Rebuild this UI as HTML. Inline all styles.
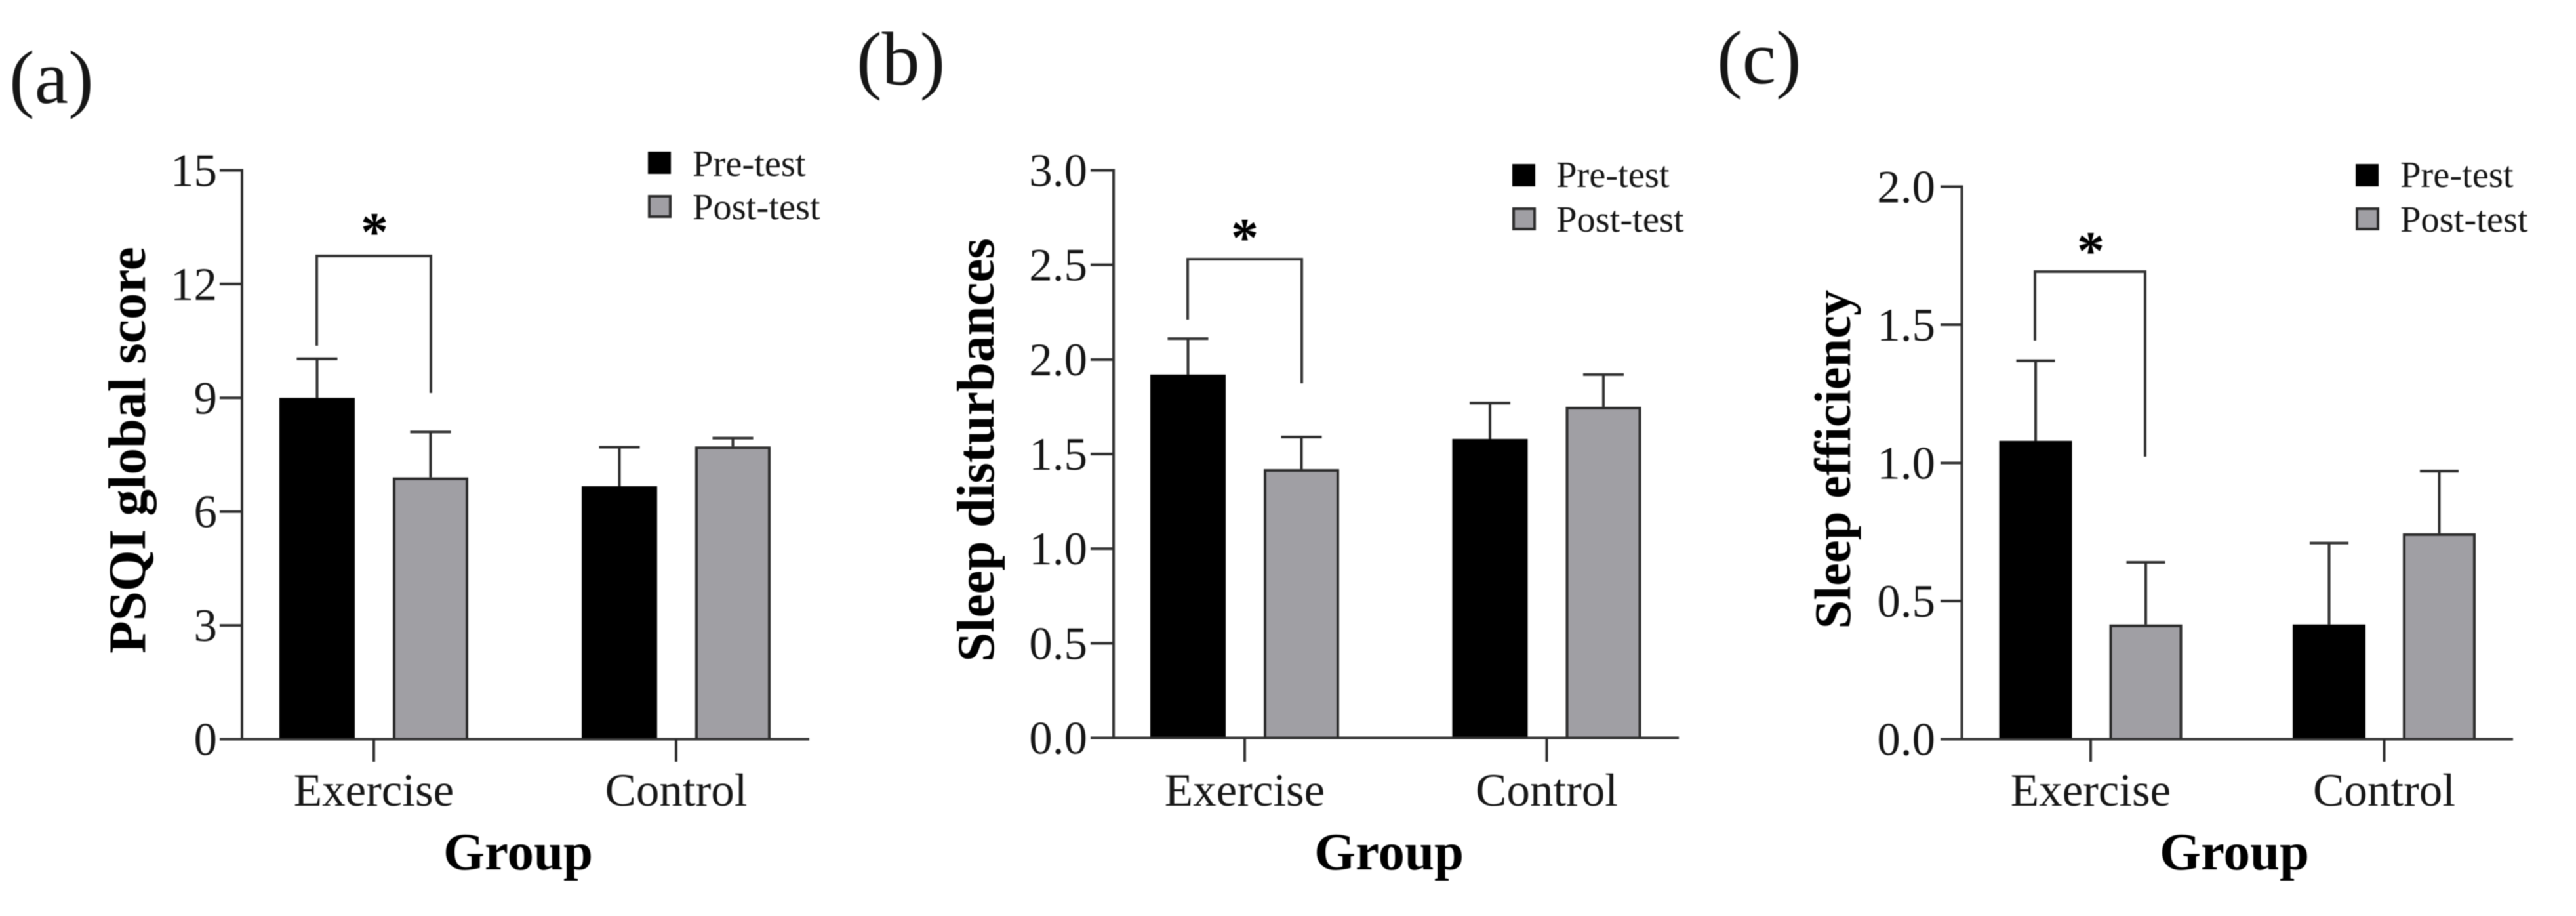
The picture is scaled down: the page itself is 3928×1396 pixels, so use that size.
<!DOCTYPE html>
<html lang="en">
<head>
<meta charset="utf-8">
<title>Sleep quality bar charts</title>
<style>
  html, body { margin: 0; padding: 0; background: #fff; width: 3928px; height: 1396px; overflow: hidden; }
  #figure { display: block; filter: blur(0.9px); }
  text { font-family: "Liberation Serif", "Times New Roman", serif; fill: #161616; }
  .panel-label { font-size: 116px; }
  .axis-title { font-size: 81px; font-weight: bold; fill: #000; }
  .axis-title-small { font-size: 78.5px; }
  .legend-text { font-size: 56.5px; }
  .tick-label { font-size: 71px; }
  .star { font-size: 84px; font-weight: bold; fill: #000; text-anchor: middle; }
  .bracket { fill: none; stroke: #333; stroke-width: 4; }
</style>
</head>
<body>
<svg id="figure" xmlns="http://www.w3.org/2000/svg" width="3928" height="1396" viewBox="0 0 3928 1396">
  <rect x="0" y="0" width="3928" height="1396" fill="#ffffff"/>

  <g id="panel-a">
    <text class="panel-label" x="14" y="157">(a)</text>
    <text class="axis-title" text-anchor="middle" transform="translate(221,686) rotate(-90)">PSQI global score</text>
    <text class="axis-title" text-anchor="middle" x="790" y="1325">Group</text>
    <path class="bracket" d="M483 527V390H657V599"/>
    <text class="star" x="571" y="381">*</text>
    <g>
      <rect x="988" y="231" width="35" height="34" fill="#000"/>
      <text class="legend-text" x="1056" y="268">Pre-test</text>
      <rect x="990" y="299" width="32" height="31" fill="#a09fa4" stroke="#2b2b2b" stroke-width="4"/>
      <text class="legend-text" x="1056" y="334">Post-test</text>
    </g>
  </g>

  <g id="panel-b">
    <text class="panel-label" x="1306" y="129">(b)</text>
    <text class="axis-title" text-anchor="middle" transform="translate(1515,686) rotate(-90)">Sleep disturbances</text>
    <text class="axis-title" text-anchor="middle" x="2118" y="1325">Group</text>
    <path class="bracket" d="M1811 487V395H1985V584"/>
    <text class="star" x="1898" y="390">*</text>
    <g>
      <rect x="2306" y="250" width="35" height="34" fill="#000"/>
      <text class="legend-text" x="2373" y="285">Pre-test</text>
      <rect x="2308" y="318" width="32" height="31" fill="#a09fa4" stroke="#2b2b2b" stroke-width="4"/>
      <text class="legend-text" x="2373" y="353">Post-test</text>
    </g>
  </g>

  <g id="panel-c">
    <text class="panel-label" x="2618" y="127">(c)</text>
    <text class="axis-title axis-title-small" text-anchor="middle" transform="translate(2821,700) rotate(-90)">Sleep efficiency</text>
    <text class="axis-title" text-anchor="middle" x="3407" y="1325">Group</text>
    <path class="bracket" d="M3103 519V414H3271V696"/>
    <text class="star" x="3188" y="410">*</text>
    <g>
      <rect x="3592" y="250" width="35" height="34" fill="#000"/>
      <text class="legend-text" x="3660" y="285">Pre-test</text>
      <rect x="3594" y="318" width="32" height="31" fill="#a09fa4" stroke="#2b2b2b" stroke-width="4"/>
      <text class="legend-text" x="3660" y="353">Post-test</text>
    </g>
  </g>
</svg>

<script>
// ---- data ----
const categories = ['Exercise', 'Control'];

const aTickLabels = ['0', '3', '6', '9', '12', '15'];
const aPre = [9.0, 6.67];
const aPreErr = [1.03, 1.03];
const aPost = [6.9, 7.72];
const aPostErr = [1.2, 0.22];

const bTickLabels = ['0.0', '0.5', '1.0', '1.5', '2.0', '2.5', '3.0'];
const bPre = [1.92, 1.58];
const bPreErr = [0.19, 0.19];
const bPost = [1.42, 1.75];
const bPostErr = [0.17, 0.17];

const cTickLabels = ['0.0', '0.5', '1.0', '1.5', '2.0'];
const cPre = [1.08, 0.415];
const cPreErr = [0.29, 0.295];
const cPost = [0.415, 0.745];
const cPostErr = [0.225, 0.225];

// ---- chart drawing ----
const SVG_NS = 'http://www.w3.org/2000/svg';
const LINE = '#2e2e2e';

function make(tag, attrs, parent) {
  const el = document.createElementNS(SVG_NS, tag);
  Object.keys(attrs).forEach(function (k) { el.setAttribute(k, attrs[k]); });
  parent.appendChild(el);
  return el;
}

function drawPanel(p) {
  const root = document.getElementById('panel-' + p.id);
  const maxValue = Number(p.ticks[p.ticks.length - 1]);
  const yScale = function (v) { return p.y0 - (v / maxValue) * (p.y0 - p.yTop); };
  const groupX = function (g) { return p.groupStart + g * p.groupStep; };
  const seriesX = function (g, s) { return groupX(g) + (s === 0 ? -p.offset : p.offset); };

  const series = [
    { key: 'pre', values: p.pre, errors: p.preErr, fill: '#000000', stroke: '#000000' },
    { key: 'post', values: p.post, errors: p.postErr, fill: '#a09fa4', stroke: '#2b2b2b' }
  ];

  series.forEach(function (s, si) {
    s.values.forEach(function (v, g) {
      const cx = seriesX(g, si);
      const top = yScale(v);
      const errTop = yScale(v + s.errors[g]);

      const stem = make('line', { x1: cx, x2: cx, y1: top, y2: errTop, stroke: LINE, 'stroke-width': 4 }, root);
      
      

      const cap = make('line', { x1: cx - p.cap / 2, x2: cx + p.cap / 2, y1: errTop, y2: errTop, stroke: LINE, 'stroke-width': 4 }, root);
      
      

      const bar = make('rect', {
        x: cx - p.barWidth / 2 + 2,
        y: top + 2,
        width: p.barWidth - 4,
        height: Math.max(0, p.y0 - top - 2),
        fill: s.fill,
        stroke: s.stroke,
        'stroke-width': 4
      }, root);
      
      
    });
  });

  const yAxis = make('line', { x1: p.axisX, x2: p.axisX, y1: p.yTop - 2, y2: p.y0 + 2, stroke: LINE, 'stroke-width': 4 }, root);
  
  

  const xAxis = make('line', { x1: p.tickLeft, x2: p.xEnd, y1: p.y0, y2: p.y0, stroke: LINE, 'stroke-width': 4 }, root);
  
  

  p.ticks.forEach(function (label) {
    const y = yScale(Number(label));
    if (Number(label) !== 0) {
      const tick = make('line', { x1: p.tickLeft, x2: p.axisX, y1: y, y2: y, stroke: LINE, 'stroke-width': 4 }, root);
      
      
    }
    const text = make('text', { class: 'tick-label', x: p.labelRight, y: y + 24, 'text-anchor': 'end' }, root);
    text.textContent = label;
    
    
  });

  categories.forEach(function (name, g) {
    const x = groupX(g);
    const tick = make('line', { x1: x, x2: x, y1: p.y0, y2: 1161, stroke: LINE, 'stroke-width': 4 }, root);
    
    
    const text = make('text', { class: 'tick-label', x: x, y: 1228, 'text-anchor': 'middle' }, root);
    text.textContent = name;
    
    
  });
}

drawPanel({
  id: 'a', ticks: aTickLabels, pre: aPre, preErr: aPreErr, post: aPost, postErr: aPostErr,
  axisX: 369, y0: 1126.5, yTop: 259.5, tickLeft: 335, xEnd: 1234, labelRight: 331,
  groupStart: 570, groupStep: 461, offset: 86.5, barWidth: 115, cap: 62
});
drawPanel({
  id: 'b', ticks: bTickLabels, pre: bPre, preErr: bPreErr, post: bPost, postErr: bPostErr,
  axisX: 1698, y0: 1124.5, yTop: 259.5, tickLeft: 1663, xEnd: 2560, labelRight: 1658,
  groupStart: 1898, groupStep: 460.5, offset: 86.5, barWidth: 115, cap: 62
});
drawPanel({
  id: 'c', ticks: cTickLabels, pre: cPre, preErr: cPreErr, post: cPost, postErr: cPostErr,
  axisX: 2991.5, y0: 1126.5, yTop: 284.5, tickLeft: 2959, xEnd: 3832, labelRight: 2951,
  groupStart: 3188, groupStep: 447.5, offset: 84, barWidth: 111, cap: 59
});
</script>
</body>
</html>
